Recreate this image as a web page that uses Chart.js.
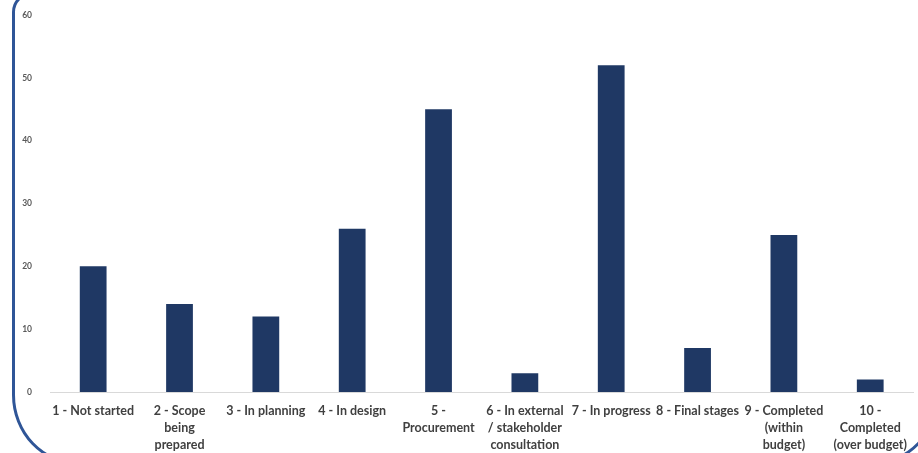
<!DOCTYPE html>
<html>
<head>
<meta charset="utf-8">
<script src="https://cdn.jsdelivr.net/npm/chart.js@4.4.1/dist/chart.umd.min.js"></script>
<style>
    html, body { margin: 0; padding: 0; background: #fff; overflow: hidden; }
    #wrap { position: relative; width: 918px; height: 453px; }
    #frame {
        position: absolute; left: 12px; top: -8px; width: 927px; height: 473px;
        box-sizing: border-box; border: 3px solid #2F5597;
        border-radius: 20px 20px 67px 67px / 20px 20px 70px 70px;
        pointer-events: none;
    }
</style>
</head>
<body>
<div id="wrap">
    <canvas id="chart" width="918" height="453"></canvas>
    <div id="frame"></div>
</div>
<script>
// Data
const categories = [
    '1 - Not started',
    ['2 - Scope', 'being', 'prepared'],
    '3 - In planning',
    '4 - In design',
    ['5 -', 'Procurement'],
    ['6 - In external', '/ stakeholder', 'consultation'],
    '7 - In progress',
    '8 - Final stages',
    ['9 - Completed', '(within', 'budget)'],
    ['10 -', 'Completed', '(over budget)']
];
const projectCounts = [20, 14, 12, 26, 45, 3, 52, 7, 25, 2];
const yTicks = [0, 10, 20, 30, 40, 50, 60];

document.addEventListener('DOMContentLoaded', function () {
    const ctx = document.getElementById('chart');
    new Chart(ctx, {
        type: 'bar',
        data: {
            labels: categories,
            datasets: [{
                data: projectCounts,
                backgroundColor: '#1F3864',
                barPercentage: 0.31,
                categoryPercentage: 1
            }]
        },
        options: {
            responsive: false,
            animation: false,
            layout: { padding: { left: 2, right: 3, top: 15, bottom: 0 } },
            plugins: {
                legend: { display: false },
                tooltip: { enabled: false }
            },
            scales: {
                x: {
                    afterFit: function (axis) { axis.height = 61; },
                    grid: { drawOnChartArea: false, drawTicks: false, color: 'transparent' },
                    border: { display: true, color: '#D9D9D9', width: 1 },
                    ticks: {
                        autoSkip: false,
                        maxRotation: 0,
                        minRotation: 0,
                        padding: 11,
                        color: '#404040',
                        font: { family: 'Lato', size: 12.5, weight: 'bold', lineHeight: 1.35 }
                    }
                },
                y: {
                    min: 0,
                    max: 60,
                    afterFit: function (axis) { axis.width = 48; },
                    afterBuildTicks: function (axis) {
                        axis.ticks = yTicks.map(v => ({ value: v }));
                    },
                    grid: { display: false },
                    border: { display: false },
                    ticks: {
                        padding: 10,
                        color: '#595959',
                        font: { family: 'Lato', size: 8.5, weight: 'bold' }
                    }
                }
            }
        }
    });
});
</script>
</body>
</html>
